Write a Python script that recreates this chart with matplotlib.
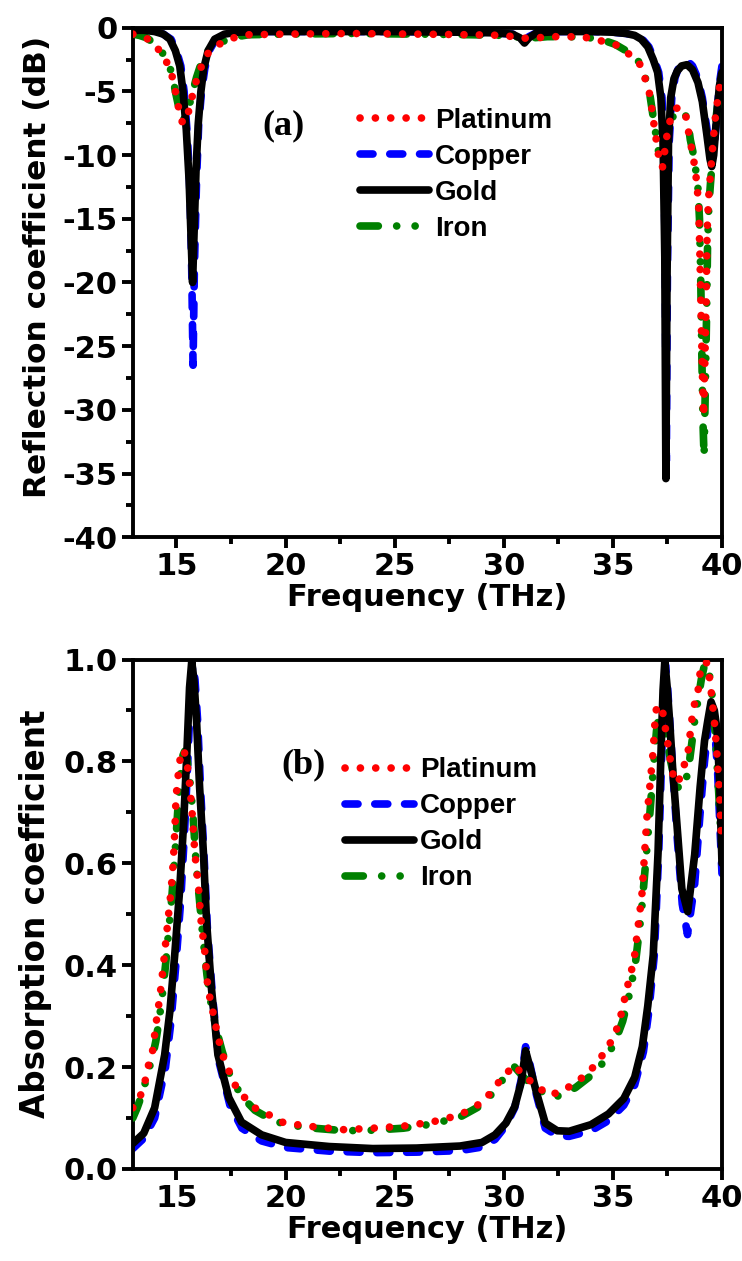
import numpy as np
import matplotlib
matplotlib.use('Agg')
import matplotlib.pyplot as plt
from matplotlib.ticker import MultipleLocator, FormatStrFormatter

plt.rcParams['font.family'] = 'DejaVu Sans'
plt.rcParams['font.weight'] = 'bold'
plt.rcParams['axes.unicode_minus'] = False

# ---- (a) reflection coefficient, dB ----
au_f_a = [13.0, 13.5, 14.0, 14.4, 14.7, 14.95, 15.15, 15.3, 15.45, 15.58, 15.68, 15.74, 15.8, 15.9,
          16.0, 16.12, 16.25, 16.45, 16.75, 17.2, 17.8, 19.0, 22.0, 25.0, 28.0, 29.5, 30.4, 30.75,
          30.95, 31.15, 31.5, 32.5, 34.0, 35.0, 35.6, 36.0, 36.3, 36.6, 36.85, 37.05, 37.2, 37.3,
          37.38, 37.43, 37.48, 37.55, 37.65, 37.8, 37.95, 38.15, 38.4, 38.65, 38.9, 39.1, 39.3,
          39.45, 39.53, 39.62, 39.75, 39.88, 40.0]
au_r = [-0.2, -0.2, -0.3, -0.5, -0.9, -1.8, -3.0, -5.0, -8.0, -12.0, -17.0, -20.0, -16.5, -11.0,
        -7.5, -5.0, -3.2, -1.8, -0.9, -0.5, -0.35, -0.3, -0.3, -0.3, -0.35, -0.4, -0.5, -0.8,
        -1.2, -0.8, -0.4, -0.3, -0.3, -0.35, -0.45, -0.6, -0.9, -1.5, -2.5, -3.5, -5.5, -9.0,
        -18.0, -35.4, -20.0, -9.0, -5.5, -4.0, -3.4, -3.0, -2.9, -3.3, -4.3, -5.8, -8.3,
        -10.3, -10.9, -10.0, -7.2, -4.6, -3.5]

cu_f_a = [13.0, 13.5, 14.0, 14.4, 14.75, 15.0, 15.2, 15.35, 15.5, 15.62, 15.7, 15.76, 15.82, 15.92,
          16.02, 16.15, 16.3, 16.5, 16.8, 17.2, 17.8, 19.0, 22.0, 25.0, 28.0, 29.5, 30.4, 30.75,
          30.95, 31.15, 31.5, 32.5, 34.0, 35.0, 35.6, 36.0, 36.35, 36.65, 36.9, 37.1, 37.25, 37.33,
          37.4, 37.45, 37.5, 37.58, 37.7, 37.85, 38.0, 38.2, 38.42, 38.65, 38.9, 39.1, 39.3,
          39.45, 39.55, 39.65, 39.78, 39.9, 40.0]
cu_r = [-0.2, -0.2, -0.3, -0.5, -0.9, -1.8, -3.0, -5.0, -8.5, -13.0, -19.0, -26.5, -19.0, -12.0,
        -7.5, -5.0, -3.2, -1.8, -0.9, -0.5, -0.35, -0.3, -0.3, -0.3, -0.35, -0.4, -0.5, -0.7,
        -1.0, -0.7, -0.4, -0.3, -0.3, -0.35, -0.45, -0.6, -0.9, -1.5, -2.5, -3.5, -5.5, -9.0,
        -18.0, -34.0, -19.0, -9.0, -5.5, -3.9, -3.2, -2.8, -2.6, -3.0, -4.0, -5.5, -7.8,
        -9.8, -10.3, -9.3, -6.5, -4.2, -3.0]

pt_f_a = [13.0, 13.3, 13.65, 14.1, 14.55, 14.8, 14.95, 15.1, 15.28, 15.45, 15.6, 15.75, 15.92,
          16.15, 16.45, 16.95, 17.6, 18.3, 20.0, 23.0, 26.0, 28.5, 30.0, 30.8, 31.3, 32.0, 33.0,
          34.0, 34.6, 35.1, 35.6, 36.0, 36.25, 36.5, 36.7, 36.9, 37.1, 37.27, 37.4, 37.5, 37.65,
          37.85, 38.05, 38.25, 38.4, 38.5, 38.65, 38.75, 38.85, 38.93, 38.99, 39.05, 39.1, 39.16,
          39.22, 39.28, 39.32, 39.38, 39.45, 39.52, 39.6, 39.7, 39.8, 39.9, 40.0]
pt_r = [-0.5, -0.7, -0.85, -1.5, -2.7, -3.8, -5.0, -6.3, -7.5, -7.2, -6.3, -5.2, -4.1,
        -3.0, -2.0, -1.3, -0.8, -0.55, -0.5, -0.45, -0.5, -0.55, -0.6, -0.8, -0.85, -0.7, -0.7,
        -0.8, -1.1, -1.3, -1.9, -2.4, -2.9, -4.1, -5.3, -7.8, -10.1, -11.0, -9.4, -8.2, -7.1,
        -6.4, -6.2, -6.6, -7.2, -8.6, -9.8, -10.9, -12.2, -14.0, -18.0, -23.0, -27.0, -30.5,
        -26.0, -21.0, -16.0, -13.5, -12.0, -10.5, -8.8, -7.0, -5.7, -4.5, -3.6]

fe_f_a = [13.0, 13.3, 13.65, 14.1, 14.5, 14.8, 14.95, 15.1, 15.25, 15.45, 15.6, 15.75, 15.92,
          16.15, 16.45, 16.95, 17.6, 18.3, 20.0, 23.0, 26.0, 28.5, 30.0, 30.8, 31.3, 32.0, 33.0,
          34.0, 34.6, 35.1, 35.6, 36.0, 36.25, 36.5, 36.7, 36.9, 37.1, 37.27, 37.4, 37.55, 37.75,
          37.95, 38.15, 38.3, 38.45, 38.55, 38.7, 38.8, 38.9, 38.97, 39.03, 39.08, 39.13, 39.18,
          39.24, 39.3, 39.34, 39.4, 39.47, 39.54, 39.62, 39.72, 39.82, 39.91, 40.0]
fe_r = [-0.5, -0.6, -0.8, -1.4, -2.3, -3.6, -5.0, -6.2, -7.3, -7.0, -6.0, -5.0, -3.9,
        -2.7, -1.8, -1.2, -0.75, -0.55, -0.5, -0.45, -0.5, -0.55, -0.6, -0.75, -0.8, -0.7, -0.7,
        -0.8, -1.0, -1.3, -1.8, -2.3, -2.8, -4.0, -5.3, -7.6, -9.8, -10.4, -9.3, -8.0, -7.0,
        -6.6, -6.5, -6.7, -7.5, -8.8, -10.0, -11.2, -12.6, -15.0, -20.0, -26.0, -31.0, -33.7,
        -28.0, -22.0, -17.0, -14.0, -12.3, -10.8, -9.0, -7.2, -5.8, -4.6, -3.7]

# ---- (b) absorption coefficient ----
au_f_b = [13.0, 13.5, 14.0, 14.46, 14.7, 14.92, 15.15, 15.33, 15.47, 15.6, 15.7, 15.8, 15.92,
          16.06, 16.24, 16.38, 16.6, 16.9, 17.4, 17.98, 18.9, 20.0, 22.0, 24.0, 26.0, 28.0, 29.0,
          29.6, 30.1, 30.5, 30.8, 31.0, 31.2, 31.5, 31.9, 32.45, 33.0, 34.0, 34.8, 35.5, 36.0,
          36.35, 36.6, 36.85, 37.07, 37.2, 37.3, 37.38, 37.48, 37.6, 37.75, 37.93, 38.16, 38.43,
          38.75, 39.0, 39.2, 39.35, 39.5, 39.65, 39.78, 39.9, 40.0]
au_a = [0.05, 0.07, 0.12, 0.224, 0.31, 0.42, 0.55, 0.68, 0.81, 0.945, 0.996, 0.96, 0.88,
        0.75, 0.617, 0.485, 0.356, 0.224, 0.14, 0.092, 0.067, 0.052, 0.044, 0.04, 0.041, 0.045, 0.052,
        0.067, 0.09, 0.122, 0.17, 0.232, 0.2, 0.15, 0.09, 0.075, 0.074, 0.087, 0.108, 0.138, 0.18,
        0.24, 0.32, 0.42, 0.62, 0.81, 0.94, 0.996, 0.95, 0.88, 0.78, 0.68, 0.55, 0.505,
        0.617, 0.75, 0.84, 0.88, 0.917, 0.9, 0.86, 0.75, 0.6]

cu_f_b = [13.0, 13.5, 14.0, 14.5, 14.75, 14.97, 15.2, 15.38, 15.52, 15.65, 15.75, 15.85, 15.97,
          16.1, 16.28, 16.42, 16.65, 16.95, 17.45, 18.0, 18.9, 20.0, 22.0, 24.0, 26.0, 28.0, 29.0,
          29.6, 30.1, 30.5, 30.8, 31.0, 31.2, 31.5, 31.9, 32.45, 33.0, 34.0, 34.8, 35.5, 36.0,
          36.4, 36.65, 36.9, 37.1, 37.23, 37.33, 37.41, 37.5, 37.62, 37.78, 37.95, 38.18, 38.42,
          38.75, 39.0, 39.2, 39.35, 39.52, 39.66, 39.8, 39.9, 40.0]
cu_a = [0.04, 0.06, 0.1, 0.2, 0.29, 0.4, 0.53, 0.67, 0.8, 0.94, 0.99, 0.96, 0.88,
        0.75, 0.6, 0.47, 0.34, 0.21, 0.125, 0.08, 0.055, 0.042, 0.035, 0.032, 0.033, 0.036, 0.043,
        0.058, 0.085, 0.12, 0.175, 0.24, 0.205, 0.145, 0.08, 0.065, 0.064, 0.075, 0.095, 0.125, 0.165,
        0.23, 0.31, 0.42, 0.62, 0.8, 0.93, 0.99, 0.95, 0.87, 0.76, 0.65, 0.52, 0.46,
        0.56, 0.7, 0.8, 0.86, 0.9, 0.87, 0.78, 0.68, 0.58]

pt_f_b = [13.0, 13.1, 13.32, 13.55, 13.72, 13.9, 14.0, 14.1, 14.2, 14.29, 14.4, 14.52, 14.6, 14.67,
          14.75, 14.86, 14.93, 14.98, 15.05, 15.13, 15.24, 15.35, 15.47, 15.57, 15.7, 15.85, 16.0,
          16.12, 16.3, 16.42, 16.53, 16.68, 16.84, 16.99, 17.19, 17.44, 17.75, 18.13, 18.58, 19.3,
          19.94, 21.26, 22.7, 24.0, 25.4, 26.7, 28.0, 29.07, 29.95, 30.5, 30.95, 31.5, 32.0, 32.7,
          33.2, 33.8, 34.3, 34.7, 35.05, 35.3, 35.65, 35.97, 36.15, 36.33, 36.47, 36.56, 36.7,
          36.84, 36.93, 37.0, 37.12, 37.25, 37.38, 37.5, 37.7, 37.85, 38.0, 38.2, 38.43, 38.52,
          38.6, 38.7, 38.9, 38.98, 39.1, 39.25, 39.35, 39.48, 39.56, 39.68, 39.76, 39.85, 39.9,
          39.95, 40.0]
pt_a = [0.12, 0.13, 0.14, 0.17, 0.204, 0.23, 0.263, 0.297, 0.326, 0.356, 0.40, 0.45, 0.483, 0.513,
        0.544, 0.607, 0.67, 0.73, 0.76, 0.794, 0.823, 0.82, 0.8, 0.77, 0.709, 0.617, 0.558,
        0.49, 0.426, 0.365, 0.336, 0.306, 0.273, 0.244, 0.214, 0.189, 0.159, 0.14, 0.12, 0.105,
        0.09, 0.083, 0.077, 0.08, 0.084, 0.092, 0.106, 0.132, 0.18, 0.204, 0.18, 0.165, 0.145, 0.152,
        0.168, 0.185, 0.21, 0.234, 0.26, 0.289, 0.355, 0.41, 0.474, 0.538, 0.63, 0.69, 0.754,
        0.817, 0.878, 0.906, 0.91, 0.906, 0.872, 0.84, 0.784, 0.758, 0.76, 0.784, 0.813, 0.846,
        0.876, 0.906, 0.937, 0.97, 0.985, 0.996, 0.99, 0.947, 0.915, 0.866, 0.82, 0.76, 0.73,
        0.67, 0.64]

fe_f_b = [13.0, 13.2, 13.45, 13.7, 13.9, 14.05, 14.2, 14.35, 14.5, 14.65, 14.8, 14.95, 15.07,
          15.18, 15.28, 15.38, 15.5, 15.62, 15.75, 15.9, 16.05, 16.2, 16.4, 16.6, 16.85, 17.1,
          17.4, 17.75, 18.15, 18.6, 19.3, 20.0, 21.3, 22.7, 24.0, 25.4, 26.7, 28.0, 29.1, 29.95,
          30.5, 30.95, 31.5, 32.1, 32.7, 33.3, 33.9, 34.4, 34.8, 35.15, 35.45, 35.8, 36.05, 36.3,
          36.5, 36.7, 36.88, 37.0, 37.15, 37.3, 37.45, 37.65, 37.85, 38.05, 38.25, 38.45, 38.6,
          38.75, 38.9, 39.05, 39.2, 39.35, 39.5, 39.62, 39.74, 39.85, 39.93, 40.0]
fe_a = [0.1, 0.12, 0.15, 0.19, 0.22, 0.25, 0.29, 0.34, 0.4, 0.47, 0.54, 0.63, 0.71,
        0.77, 0.81, 0.82, 0.8, 0.76, 0.7, 0.6, 0.53, 0.46, 0.38, 0.32, 0.27, 0.23,
        0.19, 0.16, 0.135, 0.115, 0.098, 0.087, 0.08, 0.075, 0.076, 0.08, 0.088, 0.102, 0.128, 0.175,
        0.2, 0.178, 0.16, 0.14, 0.145, 0.16, 0.18, 0.2, 0.225, 0.255, 0.29, 0.35, 0.41, 0.5,
        0.6, 0.7, 0.8, 0.86, 0.9, 0.89, 0.85, 0.8, 0.76, 0.745, 0.75, 0.78, 0.83,
        0.88, 0.92, 0.96, 0.99, 0.99, 0.95, 0.9, 0.82, 0.74, 0.67, 0.62]

labels = ['Platinum', 'Copper', 'Gold', 'Iron']

# line styles (dash lengths are in units of the line width)
LW = 5.5
pt_style = dict(color='#ff0000', lw=LW, linestyle=(0, (0.01, 2.0)), dash_capstyle='round')
cu_style = dict(color='#0000ff', lw=LW, linestyle=(0, (1.7, 2.2)), dash_capstyle='round')
au_style = dict(color='black', lw=LW, solid_capstyle='round', solid_joinstyle='round')
fe_style = dict(color='#008000', lw=LW, linestyle=(0, (2.4, 2.4, 0.01, 2.4, 0.01, 2.4)),
                dash_capstyle='round')

fig = plt.figure(figsize=(7.42, 12.61), dpi=100)
ax1 = fig.add_axes([0.179, 0.574, 0.794, 0.404])
ax2 = fig.add_axes([0.179, 0.073, 0.794, 0.404])


def draw(ax, data):
    # platinum / copper / gold / iron, stacked so that platinum dots sit on top
    (ptf, pty), (cuf, cuy), (auf, auy), (fef, fey) = data
    l_cu, = ax.plot(cuf, cuy, zorder=2, **cu_style)
    l_fe, = ax.plot(fef, fey, zorder=3, **fe_style)
    l_au, = ax.plot(auf, auy, zorder=4, **au_style)
    l_pt, = ax.plot(ptf, pty, zorder=5, **pt_style)
    return [l_pt, l_cu, l_au, l_fe]


def style_axes(ax):
    for s in ax.spines.values():
        s.set_linewidth(2.8)
    ax.set_xlim(13, 40)
    ax.xaxis.set_major_locator(MultipleLocator(5))
    ax.xaxis.set_minor_locator(MultipleLocator(2.5))
    ax.tick_params(which='both', direction='out', width=2.8, top=False, right=False)
    ax.tick_params(which='major', length=8, labelsize=22, pad=3)
    ax.tick_params(which='minor', length=5)
    for lab in ax.get_xticklabels() + ax.get_yticklabels():
        lab.set_fontweight('bold')
    ax.set_xlabel('Frequency (THz)', fontsize=22, fontweight='bold', labelpad=1)


leg_font = dict(family='Liberation Sans', weight='bold', size=20)
leg_opts = dict(loc='upper left', frameon=False, prop=leg_font, handlelength=2.5,
                handletextpad=0.2, labelspacing=0.36, borderpad=0, borderaxespad=0)

lines = draw(ax1, [(pt_f_a, pt_r), (cu_f_a, cu_r), (au_f_a, au_r), (fe_f_a, fe_r)])
style_axes(ax1)
ax1.set_ylim(-40, 0)
ax1.yaxis.set_major_locator(MultipleLocator(5))
ax1.yaxis.set_minor_locator(MultipleLocator(2.5))
ax1.set_ylabel('Reflection coefficient (dB)', fontsize=22.5, fontweight='bold')
ax1.yaxis.set_label_coords(-0.138, 0.53)
ax1.text(0.256, 0.807, '(a)', transform=ax1.transAxes, ha='center', va='center',
         family='Liberation Serif', fontweight='bold', fontsize=26)
ax1.legend(lines, labels, bbox_to_anchor=(0.385, 0.843), **leg_opts)

lines = draw(ax2, [(pt_f_b, pt_a), (cu_f_b, cu_a), (au_f_b, au_a), (fe_f_b, fe_a)])
style_axes(ax2)
ax2.set_ylim(0, 1.0)
ax2.yaxis.set_major_locator(MultipleLocator(0.2))
ax2.yaxis.set_minor_locator(MultipleLocator(0.1))
ax2.yaxis.set_major_formatter(FormatStrFormatter('%.1f'))
ax2.set_ylabel('Absorption coefficient', fontsize=23.5, fontweight='bold')
ax2.yaxis.set_label_coords(-0.138, 0.5)
ax2.text(0.29, 0.794, '(b)', transform=ax2.transAxes, ha='center', va='center',
         family='Liberation Serif', fontweight='bold', fontsize=26)
ax2.legend(lines, labels, bbox_to_anchor=(0.36, 0.808), **leg_opts)

fig.savefig('out.png', dpi=100)
